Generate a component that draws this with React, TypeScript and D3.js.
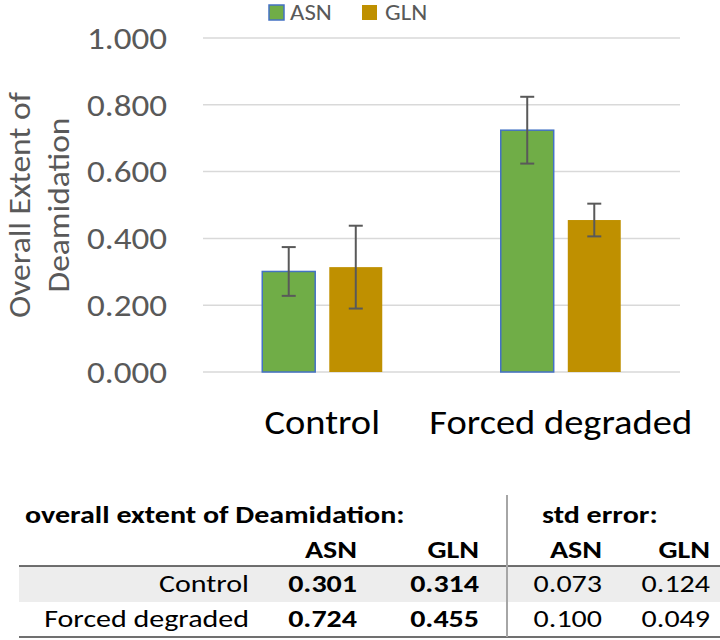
import React from 'react';
import * as d3 from 'd3';

const categories = ['Control', 'Forced degraded'];
const series = ['ASN', 'GLN'];
const asnValues = [0.301, 0.724];
const glnValues = [0.314, 0.455];
const asnErrors = [0.073, 0.1];
const glnErrors = [0.124, 0.049];
const yTicks = [0, 0.2, 0.4, 0.6, 0.8, 1.0];

const colors: Record<string, string> = { ASN: '#70ad47', GLN: '#bf9000' };
const font = 'Carlito, Calibri, Lato, sans-serif';

// text drawn slightly wider than the font to match the stretched original
function T({ x, y, sx = 1.13, children, ...rest }: any) {
  return (
    <text transform={`translate(${x},${y}) scale(${sx},1)`} {...rest}>
      {children}
    </text>
  );
}

export default function App() {
  const width = 720;
  const height = 640;
  const margin = { top: 38, left: 203, right: 40, bottom: 268 };

  const y = d3.scaleLinear().domain([0, 1]).range([height - margin.bottom, margin.top]);
  const x0 = d3.scaleBand().domain(categories).range([margin.left, width - margin.right]);
  const x1 = d3.scaleBand().domain(series).range([0, 120]).paddingInner(0.21);
  const fmt = d3.format('.3f');

  const values: Record<string, number[]> = { ASN: asnValues, GLN: glnValues };
  const errors: Record<string, number[]> = { ASN: asnErrors, GLN: glnErrors };

  const groupX = (c: string) => (x0(c) || 0) + x0.bandwidth() / 2 - 60;

  // table layout
  const tFont = 25;
  const tsx = 1.2;
  const colRight = [249, 357, 479, 602, 710];
  const rowBase = [523, 558, 592, 627];

  return (
    <svg width={width} height={height} style={{ position: 'absolute', left: 0, top: 0, background: '#fff' }} fontFamily={font}>
      {/* legend */}
      <g>
        <rect x={269} y={5} width={15} height={15} fill={colors.ASN} stroke="#4472c4" strokeWidth={1.5} />
        <T x={290} y={20} fontSize={22} fill="#595959">ASN</T>
        <rect x={362} y={5} width={15} height={15} fill={colors.GLN} />
        <T x={385} y={20} fontSize={22} fill="#595959">GLN</T>
      </g>

      {/* gridlines + y ticks */}
      {yTicks.map(t => (
        <g key={t}>
          <line x1={margin.left} x2={width - margin.right} y1={y(t)} y2={y(t)} stroke="#d9d9d9" strokeWidth={1.5} />
          <T x={167} y={y(t)} sx={1.17} dy="0.36em" textAnchor="end" fontSize={30} fill="#595959">{fmt(t)}</T>
        </g>
      ))}

      {/* y axis title */}
      <g transform={`translate(0, ${(y(0) + y(1)) / 2})`}>
        <text transform="translate(30,0) rotate(-90) scale(1.08,1)" textAnchor="middle" fontSize={31} fill="#595959">Overall Extent of</text>
        <text transform="translate(69,0) rotate(-90) scale(1.08,1)" textAnchor="middle" fontSize={31} fill="#595959">Deamidation</text>
      </g>

      {/* bars */}
      {categories.map((c, i) => (
        <g key={c} transform={`translate(${groupX(c)},0)`}>
          {series.map(s => {
            const v = values[s][i];
            const e = errors[s][i];
            const bx = x1(s) || 0;
            const cx = bx + x1.bandwidth() / 2;
            return (
              <g key={s}>
                <rect
                  x={bx}
                  y={y(v)}
                  width={x1.bandwidth()}
                  height={y(0) - y(v)}
                  fill={colors[s]}
                  stroke={s === 'ASN' ? '#4472c4' : 'none'}
                  strokeWidth={1.5}
                />
                <line x1={cx} x2={cx} y1={y(v + e)} y2={y(v - e)} stroke="#595959" strokeWidth={2} />
                <line x1={cx - 7} x2={cx + 7} y1={y(v + e)} y2={y(v + e)} stroke="#595959" strokeWidth={2} />
                <line x1={cx - 7} x2={cx + 7} y1={y(v - e)} y2={y(v - e)} stroke="#595959" strokeWidth={2} />
              </g>
            );
          })}
          <T x={60} y={434} sx={1.1} textAnchor="middle" fontSize={35} fill="#000">{c}</T>
        </g>
      ))}

      {/* data table */}
      <g fontSize={tFont} fill="#000">
        <rect x={19} y={566} width={701} height={36} fill="#ededed" />
        <T x={25} y={rowBase[0]} sx={tsx} fontWeight="bold">overall extent of Deamidation:</T>
        <T x={542} y={rowBase[0]} sx={tsx} fontWeight="bold">std error:</T>
        {series.map((s, j) => (
          <g key={s}>
            <T x={colRight[1 + j]} y={rowBase[1]} sx={tsx} textAnchor="end" fontWeight="bold">{s}</T>
            <T x={colRight[3 + j]} y={rowBase[1]} sx={tsx} textAnchor="end" fontWeight="bold">{s}</T>
          </g>
        ))}
        {categories.map((c, i) => (
          <g key={c}>
            <T x={colRight[0]} y={rowBase[2 + i]} sx={tsx} textAnchor="end">{c}</T>
            {series.map((s, j) => (
              <g key={s}>
                <T x={colRight[1 + j]} y={rowBase[2 + i]} sx={tsx} textAnchor="end" fontWeight="bold">{fmt(values[s][i])}</T>
                <T x={colRight[3 + j]} y={rowBase[2 + i]} sx={tsx} textAnchor="end">{fmt(errors[s][i])}</T>
              </g>
            ))}
          </g>
        ))}
        <line x1={19} x2={720} y1={566} y2={566} stroke="#404040" strokeWidth={1.5} />
        <line x1={19} x2={720} y1={637} y2={637} stroke="#404040" strokeWidth={1.5} />
        <line x1={507} x2={507} y1={495} y2={637} stroke="#a6a6a6" strokeWidth={2} />
      </g>
    </svg>
  );
}
